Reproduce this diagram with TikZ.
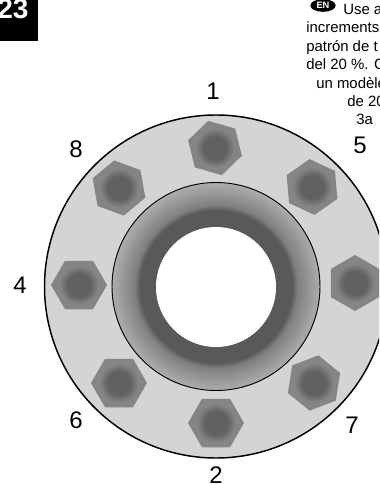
\documentclass[tikz,border=0pt]{standalone}
\usepackage{fontspec}
\setmainfont{Liberation Sans}
\usetikzlibrary{shapes.geometric}
\pgfdeclareradialshading{flangeshade}{\pgfpointorigin}{color(0bp)=(black!65); color(18.3bp)=(black!65); color(19.6bp)=(black!50); color(22bp)=(black!42); color(25bp)=(black!32); color(50bp)=(black!32)}
\pgfdeclareradialshading{boltshade}{\pgfpointorigin}{color(0bp)=(black!62); color(15bp)=(black!62); color(25bp)=(black!48); color(50bp)=(black!48)}
\tikzset{
  boltbody/.style={regular polygon,regular polygon sides=6,minimum size=42pt,inner sep=0pt,fill=black!48},
  boltcore/.style={circle,minimum size=29pt,inner sep=0pt,shading=boltshade},
  numlabel/.style={font=\fontsize{18}{18}\selectfont},
  notetext/.style={anchor=base west,inner sep=0pt,font=\fontsize{11.2}{12}\selectfont}
}
\begin{document}
\begin{tikzpicture}[x=.75pt,y=-.75pt]
\useasboundingbox (0,0) rectangle (379,484);
\clip (0,0) rectangle (379,484);
% flange
\fill[black!17] (216,286.5) circle (171.5);
\draw[line width=1.1pt] (216,286.5) circle (171.5);
\shade[shading=flangeshade] (216,286.5) circle (104);
\draw[line width=.7pt] (216,286.5) circle (104);
\fill[white] (216,287) circle (60);
% bolts
\foreach \n/\x/\y/\r in {1/215/148/44,5/312/187/35,3/355/283/30,7/314/383/21,2/216/423/0,6/119/383/0,4/79/285/0,8/119/188/40}{
  \node[boltbody,rotate=\r] (bolt\n) at (\x,\y) {};
  \node[boltcore] (core\n) at (\x,\y) {};
}
% numbers
\foreach \n/\x/\y in {1/213/91.5,8/76/149,5/360/145,4/20/285,6/76/420,7/352/425,2/216/475}{
  \node[numlabel] (num\n) at (\x,\y) {\n};
}
% page number
\fill (0,0) rectangle (38,41);
\node[text=white,font=\fontsize{21}{21}\bfseries\selectfont,inner sep=0pt] (page) at (13,9) {23};
% text
\node[ellipse,fill=black,text=white,inner sep=0pt,minimum width=19pt,minimum height=9.5pt,font=\fontsize{7}{7}\bfseries\selectfont] (en) at (323,5.5) {EN};
\node[notetext] (t1) at (343,15) {Use a};
\node[notetext] (t2) at (306,33) {increments};
\node[notetext] (t3) at (306,52) {patrón de t};
\node[notetext] (t4) at (306,70) {del 20 \%. C};
\node[notetext] (t5) at (316,89) {un modèle};
\node[notetext] (t6) at (347,107) {de 20};
\node[notetext] (t7) at (356,125) {3a};
\end{tikzpicture}
\end{document}
